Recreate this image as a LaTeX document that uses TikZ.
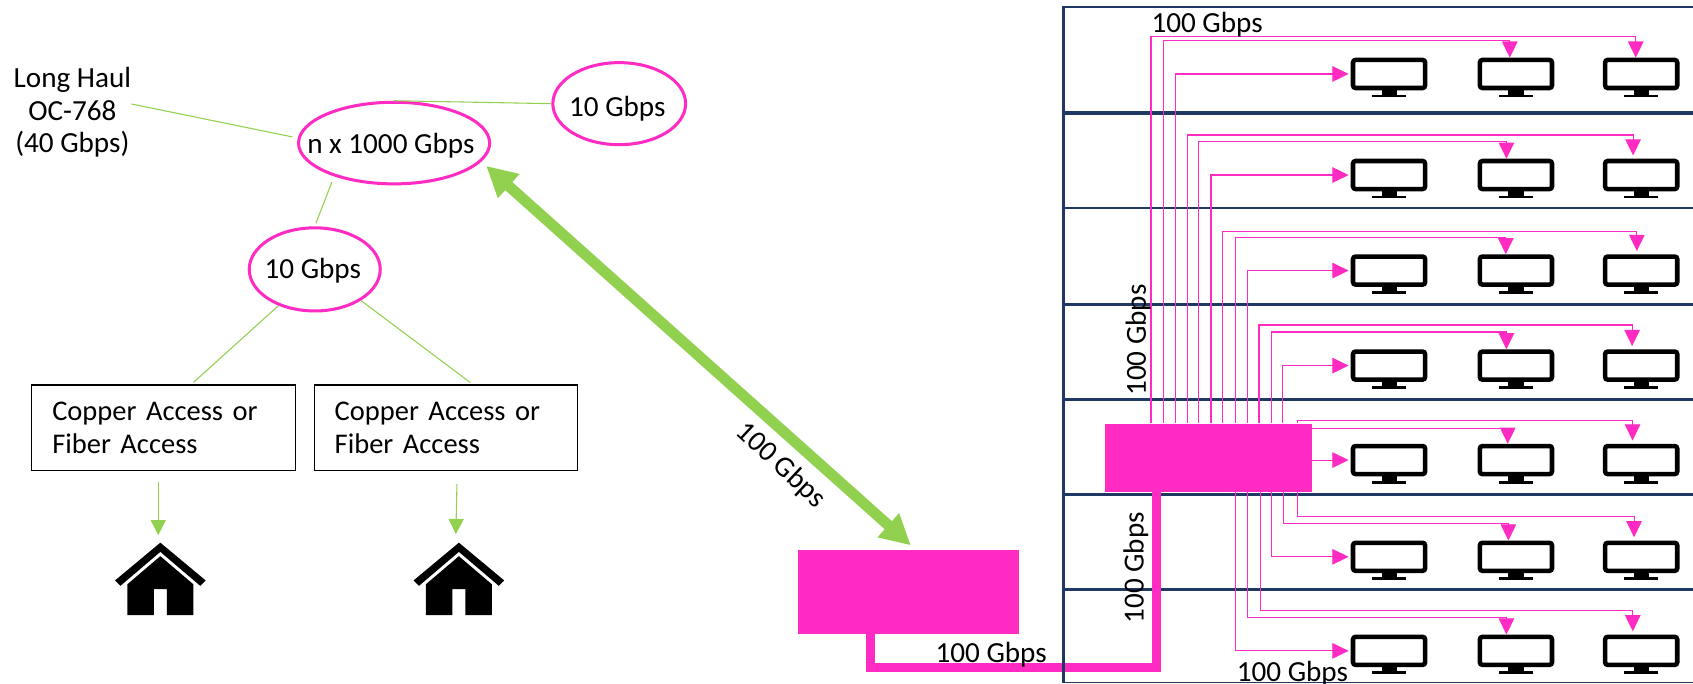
\documentclass[tikz,border=0pt]{standalone}
\usepackage{fontspec}
\setmainfont{Carlito}
\usetikzlibrary{arrows.meta,shapes.geometric}
\definecolor{hotpink}{HTML}{FF2BC2}
\definecolor{leaf}{HTML}{92D050}
\definecolor{navy}{HTML}{1F3864}
\tikzset{
  txt/.style={font=\fontsize{13.5}{15}\selectfont,inner sep=0pt},
  cloud/.style={txt,ellipse,draw=hotpink,line width=1.4pt,inner ysep=0pt,text depth=3pt},
  access/.style={txt,font=\fontsize{13.2}{15}\selectfont,draw=black,line width=0.6pt,minimum height=39.5pt,text width=103pt,inner xsep=9.5pt,align=left},
  thin link/.style={draw=leaf,line width=0.5pt},
  thin arrow/.style={thin link,-{Triangle[length=7pt,width=7pt]}},
  wire/.style={draw=hotpink,line width=0.5pt,-{Triangle[length=7.5pt,width=7.2pt]}},
  screen/.style={draw=black,line width=2.1pt,rounded corners=1.2pt,minimum width=33.4pt,minimum height=13pt,anchor=north,inner sep=0pt},
  solid block/.style={fill=hotpink,inner sep=0pt},
  pics/home/.style={code={
    \fill (0,0) -- (42,35) -- (37,40) -- (0,8.5) -- (-37,40) -- (-42,35) -- cycle;
    \fill (0,12.5) -- (30.5,38.5) -- (30.5,67) -- (6,67) -- (6,43) -- (-6,43) -- (-6,67) -- (-30.5,67) -- (-30.5,38.5) -- cycle;
  }}
}
\begin{document}
\begin{tikzpicture}[x=0.5pt,y=-0.5pt]
        \useasboundingbox (0,0) rectangle (1568,632.6);

        % rack rows
        \foreach \y/\w in {6.5/0.9,104.5/1.7,193/1,282/1.1,370/1,458/1,546/1,632/0.7}
                \draw[navy,line width=\w pt] (985,\y) -- (1568,\y);

        % screens
        \foreach \r/\y in {1/53.4,2/147,3/235.5,4/323.5,5/411,6/500.6,7/587.7} {
                \foreach \c/\x in {1/1286.5,2/1404,3/1520} {
                        \node[screen] (m\r\c) at (\x,\y) {};
                        \fill (m\r\c.south) ++(-7,0) rectangle ++(14,4);
                        \fill (m\r\c.south) ++(-16,4) rectangle ++(32,2.6);
                }
        }

        % blocks
        \node[solid block,minimum width=95.8pt,minimum height=31.4pt] (switch) at (1119.2,424) {};
        \node[solid block,minimum width=102.4pt,minimum height=38.8pt] (router) at (841.3,548) {};

        % wires to the first screen of a row
        \foreach \x/\dst in {1088.6/m11,1121.6/m21,1155.6/m31,1187.5/m41}
                \draw[wire,shorten >=1pt] (\x,0 |- switch.north) |- (\dst.west);
        \foreach \x/\dst in {1178/m61,1144/m71}
                \draw[wire,shorten >=1pt] (\x,0 |- switch.south) |- (\dst.west);
        \draw[wire,shorten >=1pt] (switch.east |- m51.west) -- (m51.west);

        % wires to the other screens
        \draw[wire] (1066,0 |- switch.north) |- (1515,34) -- (1515,0 |- m13.north);
        \foreach \x/\lvl/\tip/\dst in {
            1100/125/1512.5/m23,
            1132/214/1516/m33,
            1166/301/1511.6/m43,
            1201.6/389.8/1512/m53}
                \draw[wire,shorten >=1.5pt] (\x,0 |- switch.north) |- (\tip,\lvl) -- (\tip,0 |- \dst.north);
        \foreach \x/\lvl/\tip/\dst in {
            1077.6/37.7/1398.3/m12,
            1110/131/1395.2/m22,
            1144/220/1394.6/m32,
            1178/307.5/1395.2/m42}
                \draw[wire] (\x,0 |- switch.north) |- (\tip,\lvl) -- (\tip,0 |- \dst.north);
        \foreach \x/\lvl/\tip/\dst in {
            1201.6/478.4/1513.4/m63,
            1167/565.8/1512.2/m73}
                \draw[wire,shorten >=1.5pt] (\x,0 |- switch.south) |- (\tip,\lvl) -- (\tip,0 |- \dst.north);
        \foreach \x/\lvl/\tip/\dst in {
            1189/484.6/1397/m62,
            1155/571.6/1395.2/m72}
                \draw[wire] (\x,0 |- switch.south) |- (\tip,\lvl) -- (\tip,0 |- \dst.north);
        \draw[wire] (switch.east |- 0,396.6) -- (1396.4,396.6) -- (1396.4,0 |- m52.north);

        % thick link between the blocks
        \draw[hotpink,line width=4pt] (806,0 |- router.south) |- (1071,618) -- (1071,0 |- switch.south);
        \draw[navy,line width=1pt] (985,6) -- (985,632.6);

        % left tree
        \node[cloud,inner xsep=-5.9pt,minimum width=88pt,minimum height=37.8pt,text height=13.1pt] (core) at (365,132.5) {\hspace*{-3pt}n x 1000 Gbps};
        \node[cloud,inner xsep=0pt,minimum width=61.5pt,minimum height=38pt,text height=15.1pt] (far) at (573.5,96) {\hspace*{-1.75pt}10 Gbps};
        \node[cloud,inner xsep=0pt,minimum width=60.5pt,minimum height=38.5pt,text height=11.1pt] (metro) at (291.5,249.5) {\hspace*{-1.75pt}10 Gbps};
        \node[txt,align=center] (longhaul) at (67,104) {Long Haul\\OC-768\\(40 Gbps)};
        \node[access] (boxa) at (151.4,396.2) {Copper Access or\\Fiber Access};
        \node[access] (boxb) at (413,396.2) {Copper Access or\\Fiber Access};
        \node[inner sep=0pt,minimum width=42pt,minimum height=33.5pt] (homea) at (148.5,536.5) {};
        \node[inner sep=0pt,minimum width=42pt,minimum height=33.5pt] (homeb) at (425,536.5) {};
        \pic at (homea.north) {home};
        \pic at (homeb.north) {home};

        \draw[thin link,shorten >=2.5pt] (longhaul.8) -- (core.177);
        \draw[thin link] (core.north) -- (far.west);
        \draw[thin link,shorten <=3pt,shorten >=1.5pt] (core.209) -- (metro.north);
        \draw[thin link,shorten >=1.5pt] (metro.225) -- (177,0 |- boxa.north);
        \draw[thin link,shorten >=1.5pt] (metro.-34) -- (438,0 |- boxb.north);
        \draw[thin arrow,shorten <=5pt,shorten >=3.5pt] (146.6,0 |- boxa.south) -- (146.6,0 |- homea.north);
        \draw[thin arrow,shorten <=6pt,shorten >=4pt] (423.5,0 |- boxb.south) -- (422,0 |- homeb.north);

        % big link
        \draw[leaf,line width=5pt,{Triangle[length=14pt,width=14pt]}-{Triangle[length=14pt,width=14pt]},shorten <=3pt,shorten >=2.8pt]
                (core.-12.3) -- (847.75,0 |- router.north);

        % speed labels
        \node[txt,rotate=-43] (speedlink) at (723,431) {100 Gbps};
        \node[txt] (speedtop) at (1118,23) {100 Gbps};
        \node[txt,rotate=90] (speedup) at (1054,315) {100 Gbps};
        \node[txt,rotate=90] (speeddown) at (1052,526) {100 Gbps};
        \node[txt] (speedtrunk) at (918,606) {100 Gbps};
        \node[txt] (speedlast) at (1197,624) {100 Gbps};
\end{tikzpicture}
\end{document}
